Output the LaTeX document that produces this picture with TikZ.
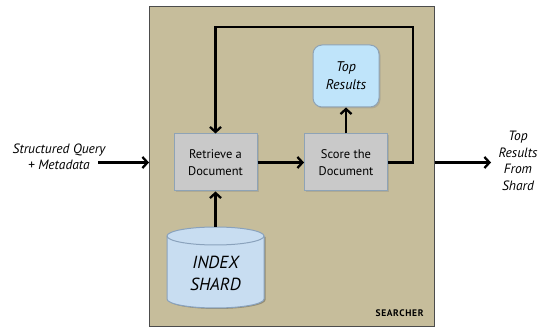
\documentclass[tikz,border=0pt]{standalone}
\usepackage{fontspec}
\setmainfont{PT Sans}
\usetikzlibrary{arrows.meta,shadows}
\definecolor{tan}{HTML}{C6BD9B}
\definecolor{boxgray}{HTML}{C9C9C9}
\definecolor{boxedge}{HTML}{8EA3B6}
\definecolor{resblue}{HTML}{BFE4FA}
\definecolor{dbblue}{HTML}{C8DDF1}
\definecolor{dbedge}{HTML}{8AA2BC}
\tikzset{
  flow/.style={line width=2.3pt,-{Straight Barb[length=5pt,width=11pt,line width=2.3pt]}},
  stepbox/.style={draw=boxedge,line width=1pt,fill=boxgray,minimum width=83pt,minimum height=57pt,
    align=center,font=\fontsize{12.5}{16.5}\selectfont,drop shadow={opacity=0.3,shadow xshift=1.5pt,shadow yshift=-1.5pt}},
  resbox/.style={draw=boxedge,line width=1pt,fill=resblue,rounded corners=9pt,minimum width=66pt,minimum height=62pt,
    align=center,font=\fontsize{14}{18}\selectfont\itshape,drop shadow={opacity=0.3,shadow xshift=1.5pt,shadow yshift=-1.5pt}},
  sidetext/.style={align=center,font=\fontsize{13.5}{16.5}\selectfont\itshape},
}
\begin{document}
\begin{tikzpicture}[x=1pt,y=-1pt]
\useasboundingbox (0,0) rectangle (544,331);
% searcher frame
\node[draw=black!70,line width=0.8pt,fill=tan,minimum width=285pt,minimum height=320pt,anchor=north west,inner sep=0pt]
  (searcher) at (149,6) {};
\node[font=\fontsize{9.5}{11}\selectfont\bfseries,anchor=east] (slabel) at (427,313) {S\kern0.6pt E\kern0.6pt A\kern0.6pt R\kern0.6pt C\kern0.6pt H\kern0.6pt E\kern0.6pt R};
% processing steps
\node[stepbox] (retrieve) at (215.5,162.5) {Retrieve a\\Document};
\node[stepbox] (score) at (346,162.5) {Score the\\Document};
\node[resbox] (top) at (346,76) {Top\\Results};
% index shard cylinder
\coordinate (dbtop) at (215.5,227);
\fill[black,opacity=0.25] (168.5,237) -- (168.5,300) arc[start angle=180,end angle=360,x radius=48.5pt,y radius=9pt]
  -- (265.5,237) -- cycle;
\draw[dbedge,line width=1pt,fill=dbblue] (167,236) -- (167,299) arc[start angle=180,end angle=360,x radius=48.5pt,y radius=9pt]
  -- (264,236) arc[start angle=0,end angle=180,x radius=48.5pt,y radius=9pt] -- cycle;
\draw[dbedge,line width=1pt] (167,236) arc[start angle=180,end angle=360,x radius=48.5pt,y radius=9pt];
\node[font=\fontsize{17.5}{22}\selectfont\itshape,align=center] (shard) at (215.5,273) {INDEX\\SHARD};
% connectors
\draw[flow] (dbtop) -- (retrieve.south);
\draw[flow] (retrieve.east) -- (score.west);
\draw[flow] (score.north) -- (top.south);
\draw[flow] (score.east) -- (413,162.5) -- (413,27) -- (215.5,27) -- (retrieve.north);
% input and output
\node[sidetext] (query) at (59,157) {Structured Query\\+ Metadata};
\coordinate (qend) at (98,162.5);
\draw[flow] (qend) -- (searcher.west |- qend);
\coordinate (outend) at (491,162.5);
\draw[flow] (searcher.east |- outend) -- (outend);
\node[sidetext] (output) at (518,161) {Top\\Results\\From\\Shard};
\end{tikzpicture}
\end{document}
